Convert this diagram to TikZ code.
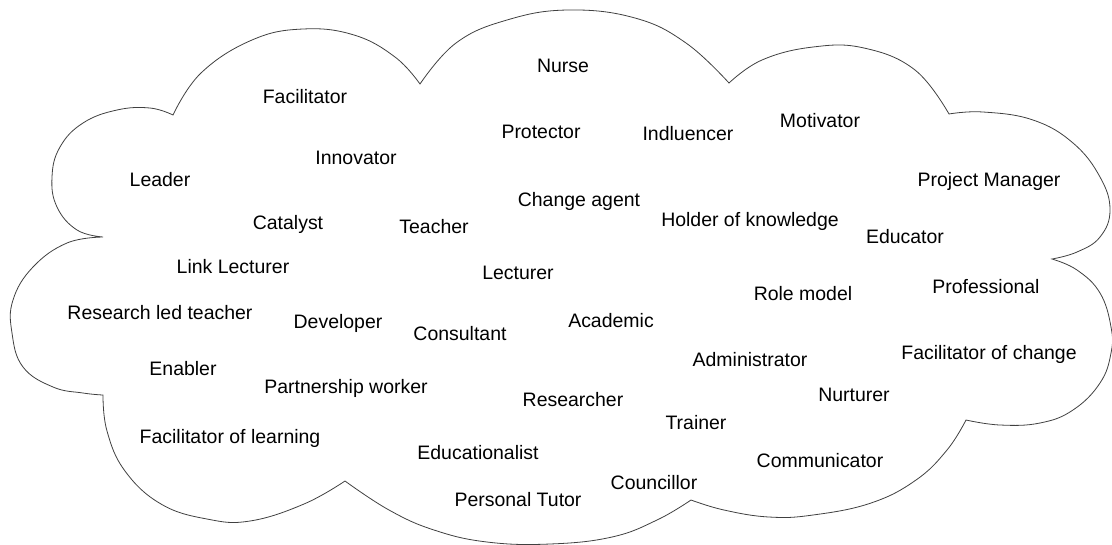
\documentclass[tikz,border=0pt]{standalone}
\usepackage{fontspec}
\setmainfont{Liberation Sans}
\begin{document}
\begin{tikzpicture}[x=0.75pt,y=-0.75pt,
                    role/.style = {anchor=base, inner sep=0pt, font=\fontsize{14.6}{17}\selectfont},
                    cloudline/.style = {draw=black!75, line width=0.6pt}]
                    \useasboundingbox (0,0) rectangle (1112,544);

                    % the cloud, one smooth lobe after another
                    \draw[cloudline]
                        plot[smooth,tension=0.7] coordinates {(173,115) (201,73) (252,40) (303,29) (354,35) (395,57) (420,84)}
                     -- plot[smooth,tension=0.7] coordinates {(420,84) (456,43) (507,20) (568,10) (635,18) (686,43) (729,83)}
                     -- plot[smooth,tension=0.7] coordinates {(729,83) (762,60) (813,47) (864,48) (915,70) (949,114)}
                     -- plot[smooth,tension=0.7] coordinates {(949,114) (983,112) (1033,120) (1073,143) (1100,177) (1110,210) (1100,237) (1077,252) (1052,259)}
                     -- plot[smooth,tension=0.7] coordinates {(1052,259) (1077,270) (1100,293) (1111,327) (1111,353) (1100,383) (1073,410) (1040,423) (1000,425) (966,420)}
                     -- plot[smooth,tension=0.7] coordinates {(966,420) (947,450) (916,480) (871,503) (813,515) (769,517) (724,510) (691,500)}
                     -- plot[smooth,tension=0.7] coordinates {(691,500) (657,520) (612,537) (550,544) (487,542) (434,530) (389,510) (345,481)}
                     -- plot[smooth,tension=0.7] coordinates {(345,481) (304,504) (250,521) (207,519) (161,504) (125,471) (107,431) (103,395)}
                     -- plot[smooth,tension=0.7] coordinates {(103,395) (83,393) (53,387) (23,367) (12,333) (13,300) (33,267) (67,243) (103,237)}
                     -- plot[smooth,tension=0.7] coordinates {(103,237) (77,230) (57,207) (52,177) (60,147) (83,123) (117,110) (150,108) (173,115)}
                     -- cycle;

                    % the roles
                    \node[role] (nurse)       at (563,72)  {Nurse};
                    \node[role] (facil)       at (305,103) {Facilitator};
                    \node[role] (protector)   at (541,138) {Protector};
                    \node[role] (influencer)  at (688,140) {Indluencer};
                    \node[role] (motivator)   at (820,127) {Motivator};
                    \node[role] (innovator)   at (356,164) {Innovator};
                    \node[role] (leader)      at (160,186) {Leader};
                    \node[role] (projman)     at (989,186) {Project Manager};
                    \node[role] (change)      at (579,206) {Change agent};
                    \node[role] (catalyst)    at (288,229) {Catalyst};
                    \node[role] (teacher)     at (434,233) {Teacher};
                    \node[role] (holder)      at (750,226) {Holder of knowledge};
                    \node[role] (educator)    at (905,243) {Educator};
                    \node[role] (linklect)    at (233,273) {Link Lecturer};
                    \node[role] (lecturer)    at (518,279) {Lecturer};
                    \node[role] (professional) at (986,293) {Professional};
                    \node[role] (rolemodel)   at (803,300) {Role model};
                    \node[role] (researchled) at (160,319) {Research led teacher};
                    \node[role] (developer)   at (338,328) {Developer};
                    \node[role] (consultant)  at (460,340) {Consultant};
                    \node[role] (academic)    at (611,327) {Academic};
                    \node[role] (admin)       at (750,366) {Administrator};
                    \node[role] (facilchange) at (989,359) {Facilitator of change};
                    \node[role] (enabler)     at (183,375) {Enabler};
                    \node[role] (partner)     at (346,393) {Partnership worker};
                    \node[role] (researcher)  at (573,406) {Researcher};
                    \node[role] (nurturer)    at (854,401) {Nurturer};
                    \node[role] (trainer)     at (696,429) {Trainer};
                    \node[role] (facillearn)  at (230,443) {Facilitator of learning};
                    \node[role] (educationalist) at (478,459) {Educationalist};
                    \node[role] (communicator) at (820,467) {Communicator};
                    \node[role] (councillor)  at (654,489) {Councillor};
                    \node[role] (tutor)       at (518,506) {Personal Tutor};
                \end{tikzpicture}
\end{document}
